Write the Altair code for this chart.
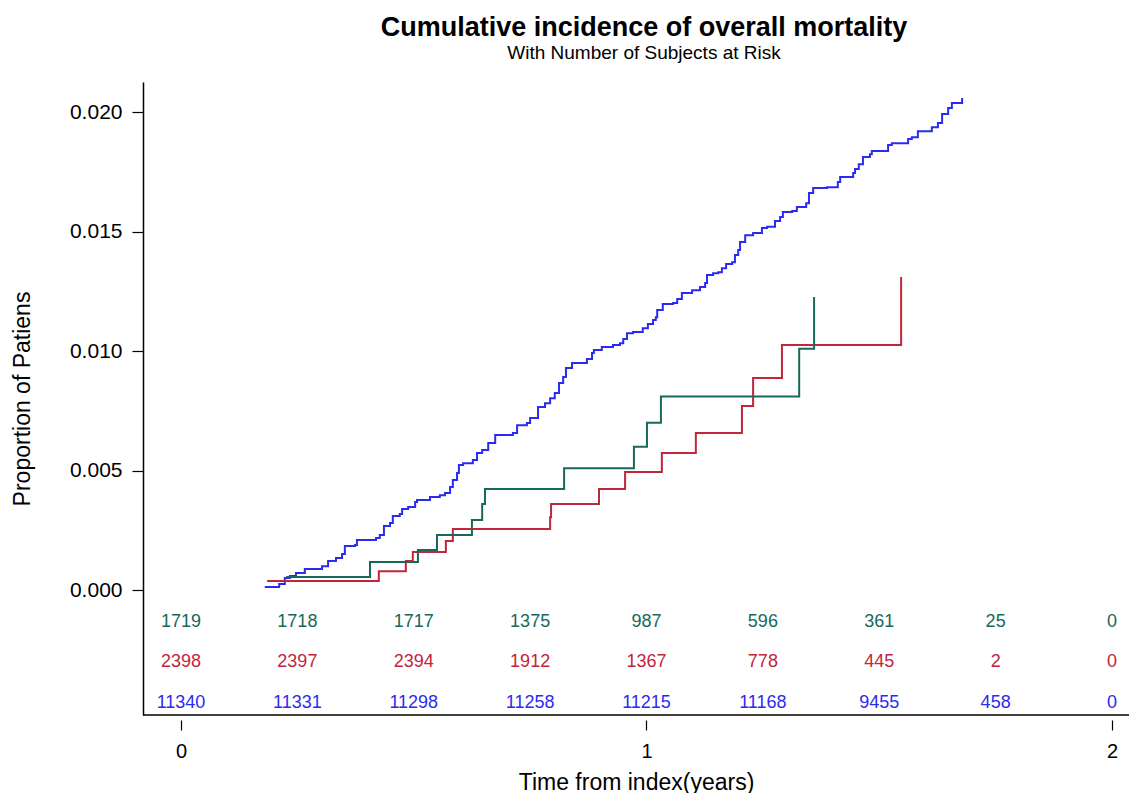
import altair as alt
import pandas as pd

FONT = "Liberation Sans, Arial, sans-serif"

# ---- cumulative incidence step curves (time in years, proportion) ----
blue_t = [0.180, 0.211, 0.223, 0.234, 0.247, 0.266, 0.303, 0.316, 0.333, 0.346,
          0.352, 0.374, 0.378, 0.419, 0.427, 0.436, 0.449, 0.455, 0.470, 0.475,
          0.488, 0.503, 0.507, 0.535, 0.556, 0.567, 0.578, 0.584, 0.593, 0.597,
          0.606, 0.627, 0.636, 0.647, 0.660, 0.675, 0.713, 0.722, 0.743, 0.750,
          0.767, 0.782, 0.793, 0.803, 0.812, 0.821, 0.827, 0.840, 0.872, 0.883,
          0.887, 0.904, 0.928, 0.943, 0.950, 0.958, 0.971, 0.992, 1.003, 1.014,
          1.020, 1.023, 1.035, 1.057, 1.066, 1.076, 1.098, 1.115, 1.126, 1.130,
          1.143, 1.154, 1.162, 1.171, 1.184, 1.190, 1.197, 1.201, 1.212, 1.229,
          1.248, 1.259, 1.276, 1.287, 1.293, 1.313, 1.323, 1.343, 1.349, 1.358,
          1.388, 1.411, 1.416, 1.444, 1.448, 1.456, 1.465, 1.480, 1.484, 1.519,
          1.527, 1.562, 1.570, 1.583, 1.613, 1.626, 1.635, 1.648, 1.656, 1.678]
blue_v = [0.00013, 0.00025, 0.0005, 0.00059, 0.00071, 0.00088, 0.0010, 0.00121, 0.00134, 0.00151,
          0.00184, 0.00188, 0.00209, 0.00218, 0.0023, 0.00268, 0.0028, 0.0031, 0.00318, 0.00339,
          0.00347, 0.00368, 0.00377, 0.00389, 0.00397, 0.00406, 0.00431, 0.0046, 0.0049, 0.00523,
          0.00531, 0.00544, 0.00573, 0.00586, 0.00615, 0.00649, 0.00657, 0.0069, 0.00699, 0.0072,
          0.00766, 0.00782, 0.00803, 0.00824, 0.00866, 0.00891, 0.00929, 0.0095, 0.00967, 0.00992,
          0.01004, 0.01017, 0.01025, 0.01033, 0.0105, 0.01075, 0.0108, 0.01096, 0.01113, 0.0113,
          0.01142, 0.01172, 0.01197, 0.01201, 0.01218, 0.01243, 0.01255, 0.01268, 0.01285, 0.01318,
          0.01326, 0.0133, 0.01347, 0.01364, 0.01372, 0.01402, 0.01423, 0.01456, 0.01485, 0.01494,
          0.01515, 0.0152, 0.01544, 0.01561, 0.01582, 0.01586, 0.01603, 0.01619, 0.01661, 0.01682,
          0.01686, 0.01707, 0.01728, 0.01745, 0.01762, 0.01782, 0.01812, 0.01824, 0.01837, 0.01862,
          0.0187, 0.01887, 0.01895, 0.0192, 0.01937, 0.01954, 0.01992, 0.02017, 0.02038, 0.02059]

red_t = [0.185, 0.425, 0.483, 0.498, 0.569, 0.584, 0.793, 0.795, 0.898, 0.954,
         1.033, 1.106, 1.205, 1.229, 1.291, 1.547]
red_v = [0.00038, 0.00079, 0.00121, 0.00159, 0.00205, 0.00255, 0.00305, 0.0036, 0.00423, 0.00494,
         0.00573, 0.00657, 0.0077, 0.00887, 0.01025, 0.0131]

green_t = [0.226, 0.406, 0.509, 0.550, 0.625, 0.647, 0.653, 0.823, 0.973, 1.001,
           1.031, 1.328, 1.360]
green_v = [0.00054, 0.00117, 0.00167, 0.0023, 0.00293, 0.0036, 0.00423, 0.0051, 0.006, 0.007,
           0.0081, 0.0101, 0.01226]

# ---- number of subjects at risk ----
risk_times = [0, 0.25, 0.5, 0.75, 1.0, 1.25, 1.5, 1.75, 2.0]
risk_green = [1719, 1718, 1717, 1375, 987, 596, 361, 25, 0]
risk_red = [2398, 2397, 2394, 1912, 1367, 778, 445, 2, 0]
risk_blue = [11340, 11331, 11298, 11258, 11215, 11168, 9455, 458, 0]

x_ticks = [0, 1, 2]
y_ticks = [0.0, 0.005, 0.01, 0.015, 0.02]

groups = ["blue", "red", "green"]
colors = ["#2b2bef", "#c1263b", "#17695b"]
row_level = {"green": -0.00134, "red": -0.00301, "blue": -0.00473}

x_domain = [-0.0816, 2.0365]
y_domain = [-0.00523, 0.02126]

curves = pd.concat([
    pd.DataFrame({"t": blue_t, "p": blue_v, "g": "blue"}),
    pd.DataFrame({"t": red_t, "p": red_v, "g": "red"}),
    pd.DataFrame({"t": green_t, "p": green_v, "g": "green"}),
], ignore_index=True)

risk = pd.concat([
    pd.DataFrame({"t": risk_times, "n": risk_green, "g": "green", "p": row_level["green"]}),
    pd.DataFrame({"t": risk_times, "n": risk_red, "g": "red", "p": row_level["red"]}),
    pd.DataFrame({"t": risk_times, "n": risk_blue, "g": "blue", "p": row_level["blue"]}),
], ignore_index=True)

color = alt.Color("g:N", scale=alt.Scale(domain=groups, range=colors), legend=None)

x_scale = alt.Scale(domain=x_domain, nice=False, zero=False)
y_scale = alt.Scale(domain=y_domain, nice=False, zero=False)

x_axis = alt.Axis(values=x_ticks, labelExpr="format(datum.value, '.0f')",
                  title="Time from index(years)",
                  domain=False, grid=False, offset=5, tickSize=10, labelOverlap=False,
                  labelFontSize=20, labelPadding=11, titleFontSize=23, titlePadding=10)
y_axis = alt.Axis(values=y_ticks, format=".3f", title="Proportion of Patiens",
                  domain=True, grid=False, tickSize=11, labelFontSize=21,
                  labelPadding=10, titleFontSize=23, titlePadding=35)

x_enc = alt.X("t:Q", scale=x_scale, axis=x_axis)
y_enc = alt.Y("p:Q", scale=y_scale, axis=y_axis)

lines = alt.Chart(curves).mark_line(interpolate="step-after", strokeWidth=2).encode(
    x=x_enc, y=y_enc, color=color, detail="g:N"
)

texts = alt.Chart(risk).mark_text(fontSize=18, align="center", baseline="middle", font=FONT).encode(
    x=alt.X("t:Q"), y=alt.Y("p:Q"), text="n:Q", color=color
)

bottom_df = pd.DataFrame({"t": [x_domain[0]], "t2": [x_domain[1]], "p": [y_domain[0]]})
bottom = alt.Chart(bottom_df).mark_rule(color="black", strokeWidth=1.5).encode(
    x=alt.X("t:Q"), x2="t2:Q", y=alt.Y("p:Q")
)

chart = alt.layer(lines, texts, bottom).properties(
    width=986,
    height=633,
    padding={"left": 135, "top": 74, "right": 0, "bottom": 78},
    autosize=alt.AutoSizeParams(type="none"),
    title=alt.TitleParams(
        text="Cumulative incidence of overall mortality",
        subtitle="With Number of Subjects at Risk",
        fontSize=27, fontWeight="bold", font=FONT, color="black",
        subtitleFontSize=19, subtitleFont=FONT, subtitleColor="black",
        anchor="middle", offset=18, subtitlePadding=2, dx=8,
    ),
).configure_view(stroke=None).configure_axis(
    labelFont=FONT, titleFont=FONT, labelColor="black", titleColor="black",
    tickColor="black", domainColor="black", domainWidth=1.5, tickWidth=1.2,
    titleFontWeight="normal",
)

chart.save("out.html", embed_options={"renderer": "svg", "actions": False})
